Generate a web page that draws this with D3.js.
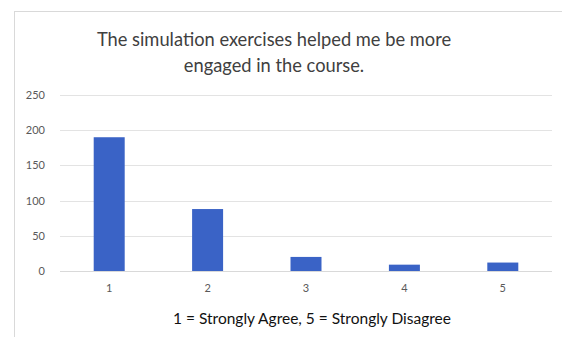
<!DOCTYPE html>
<html><head><meta charset="utf-8">
<script src="https://cdn.jsdelivr.net/npm/d3@7"></script>
<style>body{margin:0;background:#fff}svg{display:block}</style>
</head><body>
<script>
const categories = ["1","2","3","4","5"];
const values = [190, 88, 20, 9, 12];
const yTicks = [0, 50, 100, 150, 200, 250];
const titleLines = ["The simulation exercises helped me be more", "engaged in the course."];
const xTitle = "1 = Strongly Agree, 5 = Strongly Disagree";

const W = 562, H = 337;
const svg = d3.select("body").append("svg").attr("width", W).attr("height", H);
svg.append("rect").attr("x", 14.5).attr("y", 11.5).attr("width", 560).attr("height", 340)
  .attr("fill", "#fff").attr("stroke", "#d9d9d9");

const x = d3.scaleBand().domain(categories).range([60, 552]).paddingInner(0.685).paddingOuter(0.3425);
const y = d3.scaleLinear().domain([0, 250]).range([271, 95]);

const font = "Lato, 'Liberation Sans', sans-serif";
const grid = svg.append("g");
grid.selectAll("line").data(yTicks.filter(d => d > 0)).join("line")
  .attr("x1", 60).attr("x2", 552).attr("y1", d => Math.round(y(d)) + 0.5).attr("y2", d => Math.round(y(d)) + 0.5)
  .attr("stroke", "#e3e3e3");

const yAxis = svg.append("g").attr("transform", "translate(60,0)")
  .call(d3.axisLeft(y).tickValues(yTicks).tickSize(0).tickPadding(15));
yAxis.select(".domain").remove();
yAxis.selectAll("text").attr("font-family", font).attr("font-size", 11).attr("fill", "#595959");

svg.append("line").attr("x1", 60).attr("x2", 552).attr("y1", 271.5).attr("y2", 271.5).attr("stroke", "#d9d9d9");

svg.append("g").selectAll("rect").data(values).join("rect")
  .attr("x", (d, i) => x(categories[i])).attr("width", x.bandwidth())
  .attr("y", d => y(d)).attr("height", d => y(0) - y(d))
  .attr("fill", "#3A63C6");

const xAxis = svg.append("g").attr("transform", "translate(0,271)")
  .call(d3.axisBottom(x).tickSize(0).tickPadding(13));
xAxis.select(".domain").remove();
xAxis.selectAll("text").attr("font-family", font).attr("font-size", 11).attr("fill", "#595959");

svg.append("g").selectAll("text").data(titleLines).join("text")
  .attr("x", 274).attr("y", (d, i) => 46 + i * 26).attr("text-anchor", "middle")
  .attr("font-family", font).attr("font-size", 18.3).attr("fill", "#404040").text(d => d);

svg.append("text").attr("x", 312).attr("y", 324).attr("text-anchor", "middle")
  .attr("font-family", font).attr("font-size", 15.5).attr("fill", "#111").text(xTitle);
</script>
</body></html>
